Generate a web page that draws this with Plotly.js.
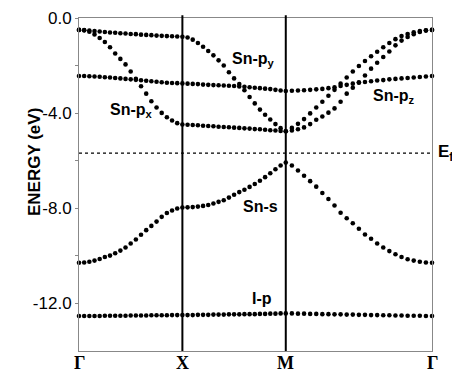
<!DOCTYPE html>
<html>
<head>
<meta charset="utf-8">
<script src="https://cdn.plot.ly/plotly-3.0.1.min.js"></script>
<style>html,body{margin:0;padding:0;background:#fff;}#chart{width:452px;height:373px;}</style>
</head>
<body>
<div id="chart"></div>
<script>
// High-symmetry points (path Γ-X-M-Γ, M-Γ length = sqrt(2))
const kLabels = ['Γ', 'X', 'M', 'Γ'];
const kNodes = [0, 1, 2, 2 + Math.SQRT2];
const fermiLevel = -5.68;
const yTickVals = [0, -4, -8, -12];
const yTickText = ['0.0', '-4.0', '-8.0', '-12.0'];

// Energies (eV) sampled along Γ-X (21 pts, k = 0..1)
const band1_GX = [-0.50,-0.51,-0.53,-0.55,-0.57,-0.59,-0.61,-0.62,-0.64,-0.65,-0.67,-0.68,-0.70,-0.71,-0.72,-0.74,-0.75,-0.76,-0.77,-0.78,-0.79];
const band2_GX = [-0.50,-0.52,-0.58,-0.69,-0.84,-1.01,-1.23,-1.49,-1.72,-1.95,-2.25,-2.56,-2.87,-3.18,-3.50,-3.76,-3.99,-4.17,-4.31,-4.42,-4.48];
const band3_GX = [-2.44,-2.44,-2.45,-2.46,-2.47,-2.49,-2.50,-2.52,-2.54,-2.56,-2.58,-2.60,-2.62,-2.64,-2.66,-2.68,-2.70,-2.72,-2.73,-2.74,-2.75];
const band4_GX = [-10.29,-10.28,-10.25,-10.20,-10.13,-10.05,-9.99,-9.89,-9.78,-9.65,-9.48,-9.31,-9.11,-8.92,-8.74,-8.56,-8.36,-8.20,-8.09,-8.01,-7.97];
const band5_GX = [-12.53,-12.53,-12.53,-12.53,-12.53,-12.52,-12.52,-12.52,-12.52,-12.52,-12.51,-12.51,-12.51,-12.51,-12.50,-12.50,-12.50,-12.50,-12.49,-12.49,-12.49];

// X-M (20 pts after X)
const band1_XM = [-0.82,-0.91,-1.05,-1.21,-1.39,-1.57,-1.78,-2.00,-2.28,-2.54,-2.78,-3.04,-3.32,-3.59,-3.85,-4.07,-4.27,-4.46,-4.63,-4.76];
const band2_XM = [-4.49,-4.50,-4.51,-4.53,-4.54,-4.55,-4.57,-4.58,-4.59,-4.61,-4.62,-4.64,-4.65,-4.67,-4.68,-4.70,-4.72,-4.73,-4.75,-4.76];
const band3_XM = [-2.76,-2.77,-2.78,-2.80,-2.81,-2.82,-2.83,-2.84,-2.85,-2.86,-2.88,-2.89,-2.91,-2.93,-2.95,-2.97,-2.99,-3.02,-3.05,-3.07];
const band4_XM = [-7.96,-7.95,-7.93,-7.90,-7.86,-7.80,-7.73,-7.66,-7.55,-7.43,-7.32,-7.22,-7.10,-6.98,-6.84,-6.69,-6.53,-6.36,-6.20,-6.08];
const band5_XM = [-12.49,-12.49,-12.48,-12.48,-12.48,-12.47,-12.47,-12.47,-12.46,-12.46,-12.46,-12.45,-12.45,-12.45,-12.44,-12.44,-12.43,-12.43,-12.42,-12.42];

// M-Γ (24 pts after M)
const band1_MG = [-4.62,-4.45,-4.25,-4.01,-3.76,-3.52,-3.27,-3.02,-2.76,-2.50,-2.25,-2.02,-1.81,-1.61,-1.42,-1.23,-1.05,-0.89,-0.76,-0.67,-0.60,-0.55,-0.52,-0.50];
const band2_MG = [-4.73,-4.68,-4.60,-4.46,-4.28,-4.14,-3.98,-3.80,-3.52,-3.18,-2.93,-2.70,-2.42,-2.13,-1.88,-1.64,-1.41,-1.15,-0.95,-0.80,-0.68,-0.59,-0.53,-0.50];
const band3_MG = [-3.06,-3.05,-3.04,-3.02,-3.00,-2.98,-2.95,-2.91,-2.86,-2.81,-2.76,-2.72,-2.69,-2.66,-2.63,-2.61,-2.58,-2.56,-2.54,-2.52,-2.50,-2.48,-2.46,-2.44];
const band4_MG = [-6.20,-6.41,-6.63,-6.86,-7.09,-7.36,-7.61,-7.88,-8.19,-8.42,-8.63,-8.86,-9.10,-9.28,-9.48,-9.65,-9.80,-9.93,-10.05,-10.14,-10.20,-10.25,-10.28,-10.29];
const band5_MG = [-12.42,-12.43,-12.43,-12.44,-12.44,-12.45,-12.45,-12.46,-12.46,-12.47,-12.47,-12.48,-12.48,-12.49,-12.49,-12.50,-12.50,-12.51,-12.51,-12.52,-12.52,-12.52,-12.53,-12.53];

// Band labels
const labelText = ['Sn-p<sub>y</sub>', 'Sn-p<sub>x</sub>', 'Sn-p<sub>z</sub>', 'Sn-s', 'I-p'];
const labelK = [1.69, 0.51, 3.05, 1.76, 1.77];
const labelE = [-1.75, -3.88, -3.32, -7.94, -11.81];

// k-path sampling
function segK(start, end, n, skipFirst) {
  const out = [];
  for (let i = skipFirst ? 1 : 0; i <= n; i++) out.push(start + (end - start) * i / n);
  return out;
}
const kPath = [].concat(segK(kNodes[0], kNodes[1], 20, false), segK(kNodes[1], kNodes[2], 20, true), segK(kNodes[2], kNodes[3], 24, true));

const bands = [
  band1_GX.concat(band1_XM, band1_MG),
  band2_GX.concat(band2_XM, band2_MG),
  band3_GX.concat(band3_XM, band3_MG),
  band4_GX.concat(band4_XM, band4_MG),
  band5_GX.concat(band5_XM, band5_MG)
];

const traces = bands.map(b => ({
  x: kPath, y: b, mode: 'markers', type: 'scatter',
  marker: {color: '#000', size: 4.6}, hoverinfo: 'skip', showlegend: false, cliponaxis: false
}));

traces.push({
  x: [kNodes[0], kNodes[3]], y: [fermiLevel, fermiLevel], mode: 'lines', type: 'scatter',
  line: {color: '#000', width: 1.2, dash: 'dot'}, showlegend: false, hoverinfo: 'skip'
});

const SANS = 'Arial, Liberation Sans, sans-serif';
const annotations = labelText.map((t, i) => ({
  x: labelK[i], y: labelE[i], xref: 'x', yref: 'y', text: '<b>' + t + '</b>', showarrow: false,
  font: {family: SANS, size: 16, color: '#000'}
}));
annotations.push({
  x: 1.012, y: fermiLevel, xref: 'paper', yref: 'y', xanchor: 'left', text: '<b>E<sub>f</sub></b>', showarrow: false,
  font: {family: SANS, size: 17, color: '#000'}
});
// k-point labels below the axis
kNodes.forEach((k, i) => annotations.push({
  x: k, y: 0, xref: 'x', yref: 'paper', yanchor: 'middle', yshift: -12, text: '<b>' + kLabels[i] + '</b>', showarrow: false,
  font: {family: 'Liberation Serif, Times New Roman, serif', size: 18, color: '#000'}
}));
// y-axis title
annotations.push({
  x: 0, y: 0.566, xref: 'paper', yref: 'paper', xshift: -56, textangle: -90, text: '<b>ENERGY (eV)</b>', showarrow: false,
  font: {family: SANS, size: 17, color: '#000'}
});

const shapes = [kNodes[1], kNodes[2]].map(k => ({
  type: 'line', xref: 'x', yref: 'paper', x0: k, x1: k, y0: 0, y1: 1.008,
  line: {color: '#000', width: 2}
}));

const layout = {
  width: 452, height: 373,
  margin: {l: 79, r: 20, t: 18, b: 22},
  paper_bgcolor: '#fff', plot_bgcolor: '#fff',
  showlegend: false,
  xaxis: {
    range: [kNodes[0], kNodes[3]], showticklabels: false,
    showgrid: false, zeroline: false, showline: true, mirror: true, linecolor: '#888', linewidth: 1, ticks: ''
  },
  yaxis: {
    range: [-14, 0], tickvals: yTickVals, ticktext: yTickText,
    showgrid: false, zeroline: false, showline: true, mirror: true, linecolor: '#888', linewidth: 1,
    ticks: 'outside', ticklen: 3, tickcolor: '#888',
    minor: {tickvals: [-2, -6, -10], ticks: 'outside', ticklen: 3, tickcolor: '#888'},
    tickfont: {family: SANS, size: 17, color: '#000'}
  },
  shapes: shapes,
  annotations: annotations
};

Plotly.newPlot('chart', traces, layout, {staticPlot: true, displayModeBar: false});
</script>
</body>
</html>
